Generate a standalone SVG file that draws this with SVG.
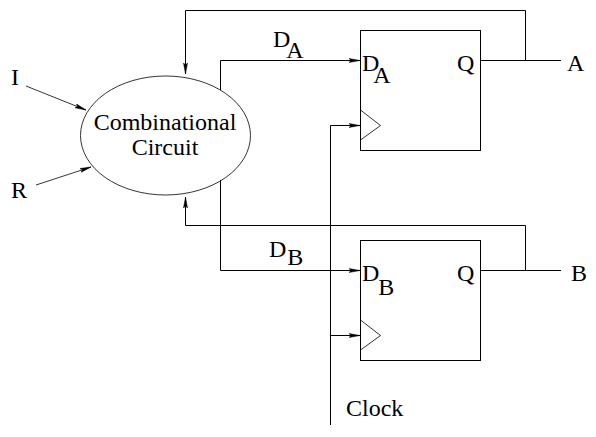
<svg xmlns="http://www.w3.org/2000/svg" width="596" height="437" viewBox="0 0 596 437">
<style>
.w{fill:none;stroke:#000;stroke-width:1}
.t{fill:none;stroke:#000;stroke-width:.8}
text{font-family:"Liberation Serif","Times New Roman",serif;fill:#000;font-size:24px}
</style>
<defs>
<marker id="a" markerUnits="userSpaceOnUse" markerWidth="12" markerHeight="6" refX="11" refY="3" orient="auto" viewBox="0 0 12 6"><path d="M0 1L11 3L0 5L2 3Z" fill="#000" stroke="#000" stroke-width=".5"/></marker>
</defs>
<rect width="596" height="437" fill="#fff"/>
<g id="connectors">
<path class="w" marker-end="url(#a)" d="M525.500 60.500V10.500H185.500V74"/>
<path class="w" marker-end="url(#a)" d="M525.500 270.500V225.500H185.500V197"/>
<path class="w" marker-end="url(#a)" d="M220.500 90V60.500H360"/>
<path class="w" marker-end="url(#a)" d="M220.500 180V270.500H360"/>
<path class="w" marker-end="url(#a)" d="M330.500 425V125.500H360"/>
<path class="w" marker-end="url(#a)" d="M330.500 335.500H360"/>
<path class="w" d="M480 60.500H561M480 270.500H561"/>
<path class="t" marker-end="url(#a)" d="M26 86L86 110"/>
<path class="t" marker-end="url(#a)" d="M36 185L91 167"/>
</g>
<g id="circuit">
<ellipse class="t" cx="165.500" cy="135.500" rx="85" ry="59.500"/>
<text x="165" y="130" text-anchor="middle">Combinational</text>
<text x="165" y="155" text-anchor="middle">Circuit</text>
</g>
<g id="ff-a">
<rect class="w" x="360.500" y="30.500" width="120" height="120"/>
<path class="t" d="M360.500 110L380.500 125.500L360.500 140"/>
<text x="362" y="71">D<tspan dx="-6" dy="12">A</tspan></text>
<text x="457" y="71">Q</text>
</g>
<g id="ff-b">
<rect class="w" x="360.500" y="240.500" width="120" height="120"/>
<path class="t" d="M360.500 320L380.500 335.500L360.500 350"/>
<text x="362" y="281">D<tspan dx="-1" dy="14">B</tspan></text>
<text x="457" y="281">Q</text>
</g>
<g id="labels">
<text x="11" y="85">I</text>
<text x="11" y="198">R</text>
<text x="273" y="47">D<tspan dx="-4" dy="11">A</tspan></text>
<text x="269" y="257">D<tspan dx="1" dy="8">B</tspan></text>
<text x="567" y="71">A</text>
<text x="571" y="281">B</text>
<text x="346" y="416">Clock</text>
</g>
</svg>
